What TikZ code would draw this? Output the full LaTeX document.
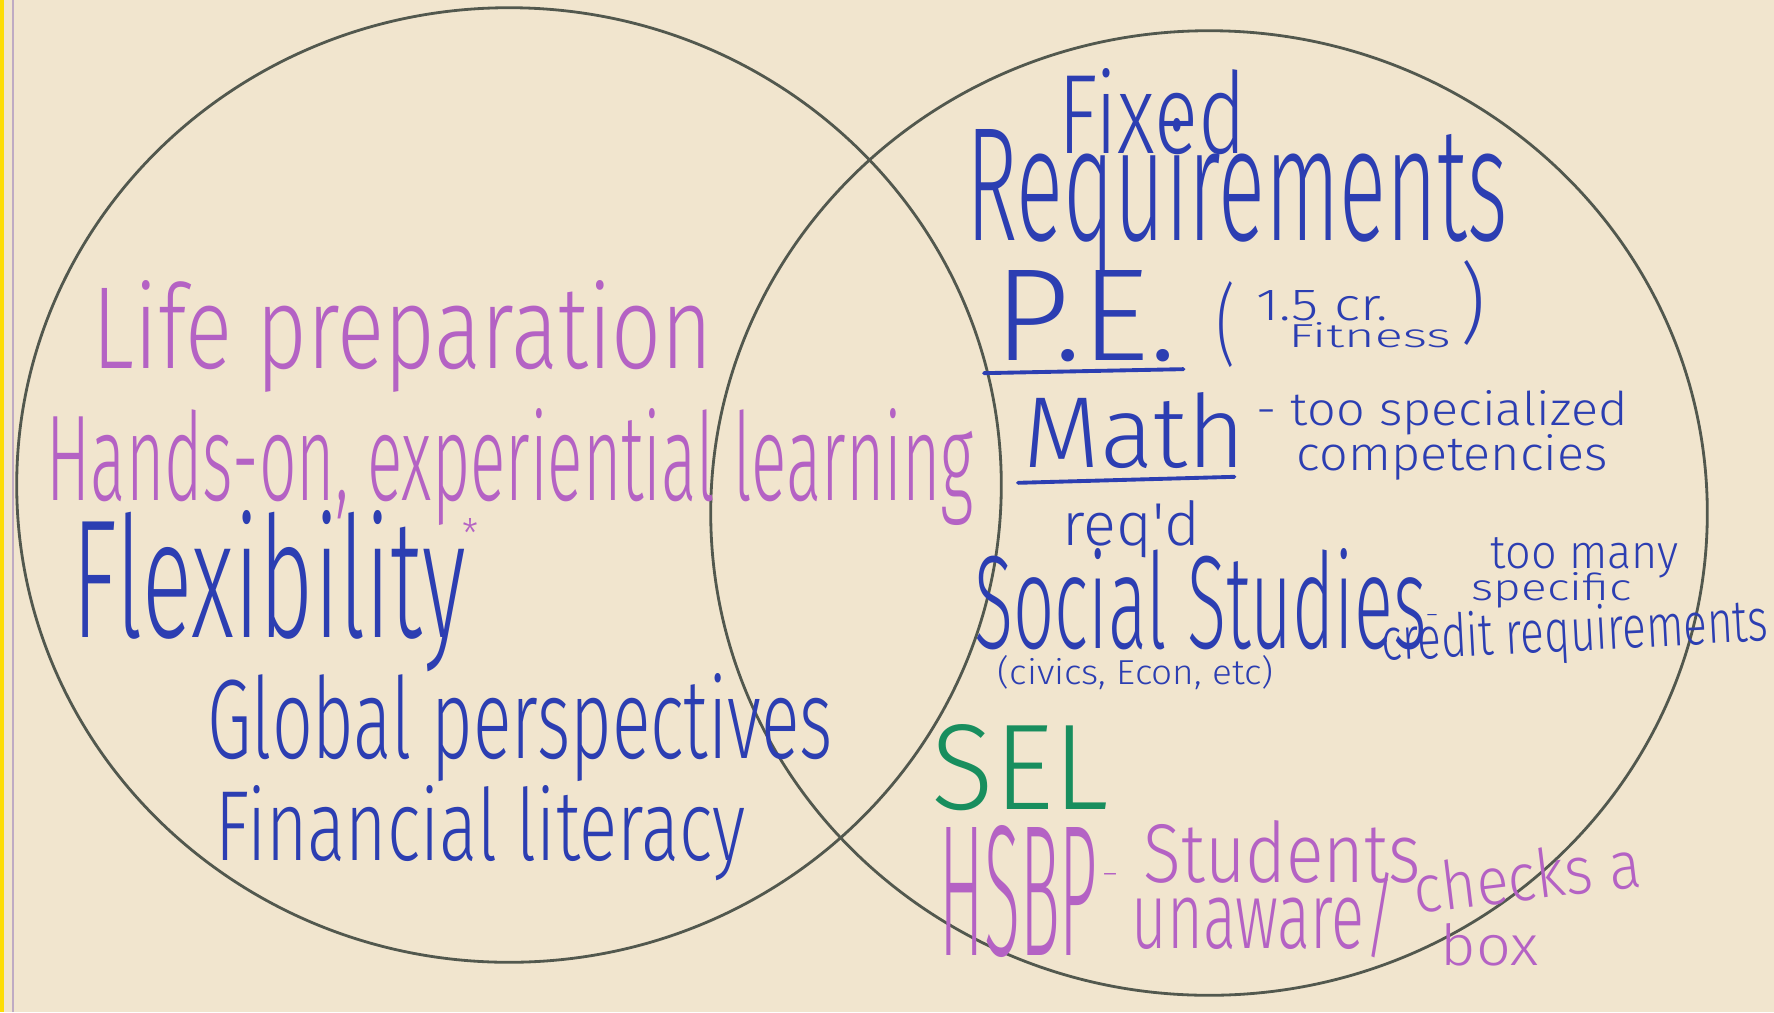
\documentclass[tikz,border=0pt]{standalone}
\usepackage{fontspec}
\usepackage{graphicx}
\usepackage{tikz}
\usetikzlibrary{positioning,calc}

\newfontfamily\handfont{Fira Sans Light}
\newlength{\pxu}\setlength{\pxu}{0.01cm}
% text squeezed to the size of the handwriting: width, height (px), text
\newcommand{\hw}[3]{\resizebox{#1\pxu}{#2\pxu}{\handfont #3}}

\definecolor{paper}{RGB}{241,229,206}
\definecolor{lifepink}{RGB}{180,98,196}
\definecolor{reqblue}{RGB}{44,62,178}
\definecolor{selgreen}{RGB}{24,142,94}
\definecolor{ringgray}{RGB}{82,88,78}

\begin{document}
\begin{tikzpicture}[
        x=0.01cm, y=-0.01cm,
        every node/.style={inner sep=0pt, anchor=base west},
        pinkink/.style={text=lifepink},
        blueink/.style={text=reqblue},
        greenink/.style={text=selgreen},
        ring/.style={draw=ringgray, line width=0.8pt},
        underl/.style={draw=reqblue, line width=1.1pt, line cap=round}
    ]

    % Paper
    \fill[paper] (0,0) rectangle (1774,1012);
    \useasboundingbox (0,0) rectangle (1774,1012);
    \fill[yellow!80!orange] (0,0) rectangle (4,1012);
    \draw[lifepink!40!gray!60, line width=0.6pt] (13,0) -- (13,1012);

    % Circles
    \draw[ring] (509,485) ellipse [x radius=4.92cm, y radius=4.77cm];
    \draw[ring] (1209,513) ellipse [x radius=4.98cm, y radius=4.82cm];

    % Left circle
    \node[pinkink] (life) at (92,368) {\hw{620}{88}{Life preparation}};
    \node[pinkink] (hands) at (46,500) {\hw{927}{92}{Hands-on, experiential learning}};
    \node[blueink] (flex) at (72,637) {\hw{393}{127}{Flexibility}};
    \node[pinkink, anchor=north] (star) at (470,518) {\hw{16}{30}{*}};
    \node[blueink] (global) at (207,758) {\hw{625}{85}{Global perspectives}};
    \node[blueink] (finance) at (215,860) {\hw{530}{75}{Financial literacy}};

    % Right circle
    \node[blueink] (fixed) at (1058,153) {\hw{187}{85}{Fixed}};
    \node[blueink] (req) at (966,240) {\hw{541}{122}{Requirements}};
    \node[blueink] (pe) at (994,360) {\hw{182}{90}{P.E.}};
    \node[blueink] (popen) at (1216,355) {\hw{19}{74}{(}};
    \node[blueink] (credit15) at (1256,320) {\hw{131}{30}{1.5 cr.}};
    \node[blueink] (fitness) at (1288,347) {\hw{162}{25}{Fitness}};
    \node[blueink] (pclose) at (1460,333) {\hw{25}{73}{)}};
    \node[blueink] (math) at (1023,467) {\hw{222}{75}{Math}};
    \node[blueink] (special) at (1256,425) {\hw{371}{35}{- too specialized}};
    \node[blueink] (comp) at (1296,470) {\hw{311}{36}{competencies}};
    \node[blueink] (reqd) at (1062,545) {\hw{137}{45}{req'd}};
    \node[blueink] (social) at (974,648) {\hw{452}{100}{Social Studies}};
    \node[blueink, anchor=north] (ssdash) at (1432,614) {\hw{14}{8}{-}};
    \node[blueink] (toomany) at (1490,568) {\hw{188}{31}{too many}};
    \node[blueink] (specific) at (1471,600) {\hw{160}{28}{specific}};
    \node[blueink, rotate=3] (creditreq) at (1382,661) {\hw{387}{45}{credit requirements}};
    \node[blueink] (civics) at (997,684) {\hw{276}{29}{(civics, Econ, etc)}};
    \node[greenink] (sel) at (931,809) {\hw{177}{85}{SEL}};
    \node[pinkink] (hsbp) at (939,955) {\hw{158}{130}{HSBP}};
    \node[pinkink, anchor=north] (hsbpdash) at (1110,873) {\hw{18}{10}{-}};
    \node[pinkink] (students) at (1143,882) {\hw{277}{62}{Students}};
    \node[pinkink] (unaware) at (1131,948) {\hw{265}{76}{unaware/}};
    \node[pinkink, rotate=7] (checks) at (1416,914) {\hw{228}{50}{checks a}};
    \node[pinkink] (box) at (1440,965) {\hw{98}{42}{box}};

    % Underlines
    \draw[underl] ($(pe.south west)+(-10,11)$) -- ($(pe.south east)+(6,7)$);
    \draw[underl] ($(math.south west)+(-5,14)$) -- ($(math.south east)+(-12,8)$);

\end{tikzpicture}
\end{document}
